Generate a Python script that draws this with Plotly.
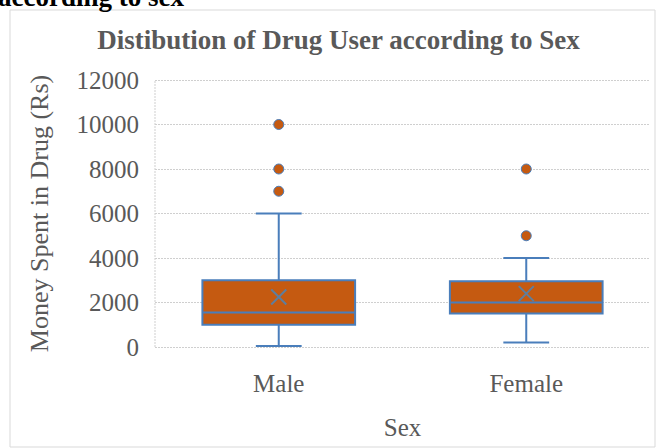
import plotly.graph_objects as go

# ---- data ----
categories = ["Male", "Female"]
q1 = [1000, 1500]
median = [1550, 2000]
q3 = [3000, 2950]
lower_fence = [50, 200]
upper_fence = [6000, 4000]
means = [2250, 2400]
outlier_cats = ["Male", "Male", "Male", "Female", "Female"]
outlier_vals = [10000, 8000, 7000, 8000, 5000]
y_ticks = [0, 2000, 4000, 6000, 8000, 10000, 12000]
y_tick_labels = [str(v) for v in y_ticks]
y_range = [-90, 12090]

W, H = 656, 448
L, R, T, B = 155, 650, 78, 349  # plot area in pixels
pw, ph = R - L, B - T

def px(x):
    return (x - L) / pw

def py(y):
    return (B - y) / ph

BLUE = "#4A7EBB"
ORANGE = "#C55A11"
GREY_TXT = "#595959"
GRID = "#CFCFCF"
FONT = "Liberation Serif, Times New Roman, serif"

fig = go.Figure()
fig.add_trace(go.Box(
    x=categories, q1=q1, median=median, q3=q3,
    lowerfence=lower_fence, upperfence=upper_fence,
    boxpoints=False, width=0.617, whiskerwidth=0.3,
    fillcolor=ORANGE, line=dict(color=BLUE, width=2),
    showlegend=False, hoverinfo="skip",
))
fig.add_trace(go.Scatter(
    x=outlier_cats, y=outlier_vals, mode="markers",
    marker=dict(color=ORANGE, size=10, line=dict(color=BLUE, width=1)),
    showlegend=False,
))
fig.add_trace(go.Scatter(
    x=categories, y=means, mode="markers",
    marker=dict(symbol="x-thin-open", size=15, color="#5E7E9E",
                line=dict(color="#5E7E9E", width=2)),
    showlegend=False,
))

# outer chart frame
fig.add_shape(type="rect", xref="paper", yref="paper",
              x0=px(10), x1=px(655), y0=py(447), y1=py(10),
              line=dict(color="#D9D9D9", width=1), layer="below")
# left dashed axis line (from 0 to 12000)
fig.add_shape(type="line", xref="paper", yref="y",
              x0=0, x1=0, y0=0, y1=12000, layer="below",
              line=dict(color=GRID, width=1, dash="2px,1px"))

# cut-off heading text above the chart
fig.add_annotation(text="<b>according to sex</b>", xref="paper", yref="paper",
                   x=px(-4), y=py(-3), xanchor="left", yanchor="middle",
                   showarrow=False, font=dict(family=FONT, size=27, color="black"))

fig.update_layout(
    width=W, height=H,
    margin=dict(l=L, r=W - R, t=T, b=H - B, pad=0),
    paper_bgcolor="white", plot_bgcolor="white",
    title=dict(text="<b>Distibution of Drug User according to Sex</b>",
               x=338.5 / W, xanchor="center", y=1 - 40 / H, yanchor="middle",
               xref="container", yref="container",
               font=dict(family=FONT, size=27, color=GREY_TXT)),
    font=dict(family=FONT, color=GREY_TXT),
    xaxis=dict(range=[-0.5, 1.5], showgrid=False, zeroline=False, showline=False,
               tickfont=dict(size=25, color=GREY_TXT), ticklabelstandoff=17,
               title=dict(text="Sex", font=dict(size=25, color=GREY_TXT), standoff=22)),
    yaxis=dict(range=y_range, tickvals=y_ticks, ticktext=y_tick_labels,
               showgrid=True, gridcolor=GRID, griddash="2px,1px", gridwidth=1,
               zeroline=False, showline=False,
               tickfont=dict(size=25, color=GREY_TXT), ticklabelstandoff=15,
               title=dict(text="Money Spent in Drug (Rs)",
                          font=dict(size=26, color=GREY_TXT), standoff=20)),
)

fig.write_html("out.html", config={"displayModeBar": False},
               post_script="document.body.style.margin='0px';")
